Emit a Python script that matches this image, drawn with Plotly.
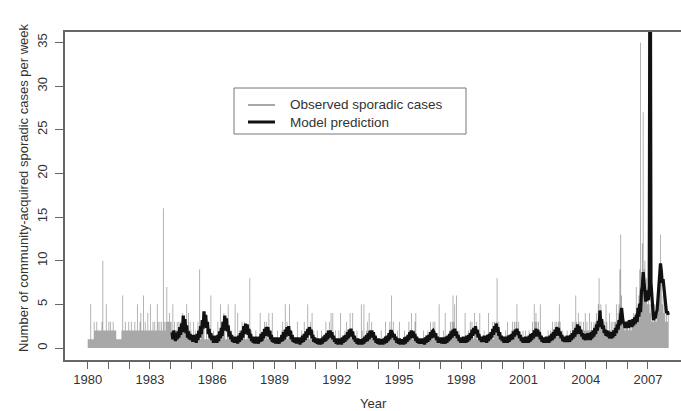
import plotly.graph_objects as go

# ---------------- data (half-month resolution) ----------------
PER_YEAR = 24
OBS_FIRST_YEAR = 1980
MOD_FIRST_YEAR = 1984

obs_1980 = [1,1,1,5,1,1,1,3,2,2,3,2,2,2,2,2,3,10,2,2,2,5,2,2]
obs_1981 = [3,2,3,2,2,3,2,2,2,1,1,1,1,1,1,2,6,2,2,3,2,2,2,3]
obs_1982 = [2,2,3,2,2,2,3,2,2,5,2,2,3,4,2,2,6,2,3,2,2,4,2,2]
obs_1983 = [5,2,2,3,2,3,2,2,5,3,2,3,2,3,2,16,3,2,3,7,3,3,4,3]
obs_1984 = [3,2,5,2,3,2,2,3,2,3,2,3,2,4,2,3,3,2,5,2,4,2,3,2]
obs_1985 = [1,1,3,1,2,1,1,3,1,9,1,3,2,3,4,1,1,2,1,1,1,2,6,1]
obs_1986 = [1,2,1,1,1,1,3,1,1,5,1,3,2,4,3,1,1,2,5,1,1,1,2,1]
obs_1987 = [1,1,5,1,1,4,1,2,1,1,3,1,2,3,1,1,2,1,1,8,1,2,1,1]
obs_1988 = [1,1,2,1,1,1,1,4,1,1,1,2,3,1,3,2,1,4,1,1,2,4,1,1]
obs_1989 = [1,1,1,2,1,1,1,1,2,3,1,1,5,2,3,1,2,5,1,1,2,1,1,1]
obs_1990 = [1,1,3,1,1,1,1,2,1,1,3,1,2,1,5,2,1,3,1,4,1,2,1,1]
obs_1991 = [1,2,1,1,1,1,2,1,1,1,1,3,1,2,1,3,2,4,1,4,1,1,2,1]
obs_1992 = [1,1,2,1,4,1,1,1,1,2,1,3,1,2,1,4,2,1,4,1,1,1,1,2]
obs_1993 = [1,1,1,1,5,2,1,5,1,1,2,3,1,4,1,2,3,1,2,1,1,1,1,1]
obs_1994 = [1,1,1,2,1,1,1,1,3,1,1,1,2,3,1,6,2,3,1,1,1,1,2,1]
obs_1995 = [3,1,1,1,1,1,2,1,1,1,1,3,2,1,4,1,1,2,3,4,1,1,1,1]
obs_1996 = [1,1,1,1,2,1,1,1,1,2,1,1,3,1,1,3,2,3,1,1,1,1,5,1]
obs_1997 = [1,1,1,2,1,4,1,1,1,1,2,3,1,3,6,3,5,2,6,1,1,2,1,1]
obs_1998 = [1,1,1,1,4,1,1,1,2,1,3,1,3,2,1,4,2,3,1,1,2,4,1,1]
obs_1999 = [1,1,2,1,1,1,1,4,1,1,1,2,3,1,3,2,3,8,2,3,1,1,1,1]
obs_2000 = [1,1,1,2,1,3,1,1,1,1,2,3,1,3,2,3,5,2,3,1,1,1,1,2]
obs_2001 = [1,1,2,1,1,1,2,1,1,1,3,2,5,3,4,3,2,3,2,5,1,1,1,1]
obs_2002 = [1,1,1,1,2,1,1,2,1,3,1,2,3,2,3,2,3,5,3,1,1,2,1,1]
obs_2003 = [1,1,2,1,1,1,2,1,3,2,3,2,6,3,2,4,3,2,3,2,1,3,2,4]
obs_2004 = [2,3,2,2,4,2,3,2,2,3,2,3,4,3,5,8,4,5,3,3,2,3,2,5]
obs_2005 = [3,2,2,4,2,3,2,3,2,3,3,5,3,4,5,9,13,6,4,3,3,2,3,3]
obs_2006 = [3,2,3,3,2,3,3,4,3,4,7,4,5,6,9,35,8,12,27,9,10,6,8,5]
obs_2007 = [6,5,4,5,3,4,3,5,4,3,5,4,6,9,13,8,5,6,4,5,3,4,3,4]

mod_1984 = [None,1.8,1.0,2.0,1.1,0.8,1.7,1.0,1.9,1.2,2.4,1.5,2.8,1.8,3.7,2.2,3.3,1.7,2.6,1.2,1.9,1.0,1.6,0.9]
mod_1985 = [1.5,0.7,1.5,0.8,1.3,0.6,1.6,0.9,2.0,1.2,2.5,1.6,3.2,2.2,4.2,2.9,3.8,2.3,3.0,1.6,2.2,1.1,1.7,0.9]
mod_1986 = [1.4,0.6,1.4,0.7,1.2,0.6,1.5,0.8,1.9,1.1,2.3,1.4,3.0,2.0,3.7,2.4,3.4,1.9,2.6,1.3,1.9,1.0,1.5,0.7]
mod_1987 = [1.3,0.6,1.3,0.6,1.2,0.5,1.4,0.7,1.7,0.9,2.0,1.2,2.5,1.6,2.8,1.9,2.7,1.5,2.2,1.1,1.6,0.8,1.3,0.6]
mod_1988 = [1.2,0.5,1.3,0.6,1.1,0.5,1.3,0.7,1.6,0.8,1.8,1.1,2.2,1.4,2.4,1.6,2.4,1.3,2.0,1.0,1.5,0.7,1.2,0.6]
mod_1989 = [1.2,0.5,1.2,0.5,1.1,0.5,1.2,0.7,1.5,0.8,1.8,1.0,2.1,1.3,2.4,1.6,2.5,1.4,2.0,1.0,1.5,0.7,1.2,0.6]
mod_1990 = [1.2,0.5,1.2,0.5,1.0,0.4,1.2,0.6,1.4,0.7,1.6,0.9,1.9,1.2,2.2,1.5,2.4,1.6,2.1,1.1,1.5,0.7,1.2,0.6]
mod_1991 = [1.1,0.5,1.1,0.4,1.0,0.4,1.1,0.5,1.3,0.7,1.5,0.8,1.7,1.0,2.0,1.2,2.0,1.3,1.8,1.0,1.4,0.7,1.1,0.5]
mod_1992 = [1.1,0.4,1.1,0.5,1.0,0.4,1.2,0.6,1.4,0.7,1.5,0.9,1.8,1.1,2.1,1.3,2.2,1.4,1.9,1.0,1.4,0.7,1.1,0.5]
mod_1993 = [1.1,0.4,1.0,0.4,1.0,0.4,1.1,0.5,1.3,0.7,1.5,0.8,1.7,1.0,2.0,1.2,2.0,1.3,1.8,0.9,1.4,0.6,1.1,0.5]
mod_1994 = [1.1,0.4,1.0,0.4,0.9,0.4,1.1,0.5,1.3,0.6,1.4,0.8,1.7,1.0,1.9,1.9,1.7,1.2,1.6,0.9,1.3,0.6,1.1,0.5]
mod_1995 = [1.1,0.4,1.0,0.5,1.0,0.4,1.2,0.5,1.3,0.7,1.5,0.9,1.8,1.1,2.0,1.3,1.9,1.1,1.6,0.8,1.3,0.6,1.1,0.5]
mod_1996 = [1.1,0.5,1.1,0.5,1.0,0.4,1.2,0.6,1.4,0.7,1.5,0.9,1.8,1.1,1.9,2.0,1.8,1.2,1.7,0.9,1.3,0.6,1.1,0.6]
mod_1997 = [1.2,0.5,1.2,0.5,1.1,0.5,1.3,0.6,1.4,0.8,1.6,1.0,1.9,1.2,2.1,1.4,2.2,1.5,1.9,1.1,1.5,0.8,1.2,0.6]
mod_1998 = [1.2,0.6,1.3,0.6,1.2,0.6,1.4,0.7,1.5,0.9,1.7,1.1,2.1,1.4,2.3,1.6,2.5,1.7,2.1,1.2,1.6,0.9,1.3,0.7]
mod_1999 = [1.3,0.7,1.4,0.7,1.3,0.6,1.5,0.8,1.6,1.0,1.8,1.2,2.2,1.5,2.5,1.8,2.8,2.0,2.4,1.4,1.8,1.0,1.4,0.8]
mod_2000 = [1.3,0.6,1.3,0.6,1.2,0.6,1.4,0.7,1.5,0.9,1.6,1.0,1.9,1.3,2.1,1.5,2.2,1.5,1.9,1.1,1.5,0.8,1.2,0.6]
mod_2001 = [1.2,0.6,1.3,0.6,1.2,0.6,1.4,0.7,1.6,0.9,1.7,1.1,2.0,1.3,2.2,1.5,2.1,1.3,1.8,1.0,1.4,0.7,1.2,0.6]
mod_2002 = [1.2,0.6,1.3,0.6,1.2,0.6,1.4,0.8,1.6,0.9,1.8,1.1,2.1,1.4,2.4,1.7,2.3,1.4,1.9,1.1,1.5,0.8,1.2,0.7]
mod_2003 = [1.3,0.7,1.4,0.7,1.3,0.7,1.5,0.9,1.7,1.1,2.0,1.3,2.3,1.6,2.7,1.9,2.5,1.6,2.1,1.3,1.7,1.0,1.5,0.9]
mod_2004 = [1.6,0.9,1.7,1.0,1.6,0.9,1.8,1.1,2.0,1.3,2.3,1.6,2.7,2.0,3.1,2.4,4.3,2.8,3.3,2.2,2.6,1.7,2.1,1.4]
mod_2005 = [2.0,1.3,1.9,1.1,1.8,1.1,1.7,1.2,2.0,1.4,2.3,1.7,2.7,2.1,3.2,2.6,3.8,4.6,3.6,2.8,3.0,2.3,2.8,2.4]
mod_2006 = [3.0,2.3,3.2,2.4,3.1,2.4,3.3,2.6,3.5,2.8,3.8,3.0,4.6,3.6,5.1,4.1,6.5,7.0,8.7,6.8,6.4,5.3,6.6,5.6]
mod_2007 = [5.5,7.0,60.0,7.5,6.3,4.5,3.2,3.6,3.4,4.0,4.3,5.5,6.8,8.5,9.7,8.8,7.5,7.9,7.0,5.8,4.6,4.0,4.2,3.8]

y_ticks = [0, 5, 10, 15, 20, 25, 30, 35]
x_tick_years = list(range(1980, 2008))
x_label_years = [1980, 1983, 1986, 1989, 1992, 1995, 1998, 2001, 2004, 2007]

observed_label = "Observed sporadic cases"
model_label = "Model prediction"
x_title = "Year"
y_title = "Number of community-acquired sporadic cases per week"

# ---------------- assemble series ----------------
obs_by_year = [obs_1980, obs_1981, obs_1982, obs_1983, obs_1984, obs_1985, obs_1986,
               obs_1987, obs_1988, obs_1989, obs_1990, obs_1991, obs_1992, obs_1993,
               obs_1994, obs_1995, obs_1996, obs_1997, obs_1998, obs_1999, obs_2000,
               obs_2001, obs_2002, obs_2003, obs_2004, obs_2005, obs_2006, obs_2007]
mod_by_year = [mod_1984, mod_1985, mod_1986, mod_1987, mod_1988, mod_1989, mod_1990,
               mod_1991, mod_1992, mod_1993, mod_1994, mod_1995, mod_1996, mod_1997,
               mod_1998, mod_1999, mod_2000, mod_2001, mod_2002, mod_2003, mod_2004,
               mod_2005, mod_2006, mod_2007]

# observed counts as a step-shaped filled histogram (each value covers its half-month)
obs_x, obs_y = [], []
for k, vals in enumerate(obs_by_year):
    for i, v in enumerate(vals):
        obs_x.append(OBS_FIRST_YEAR + k + i / PER_YEAR)
        obs_y.append(v)
obs_x.append(OBS_FIRST_YEAR + len(obs_by_year))
obs_y.append(obs_y[-1])
obs_x = [obs_x[0]] + obs_x + [obs_x[-1]]
obs_y = [0] + obs_y + [0]

mod_x, mod_y = [], []
for k, vals in enumerate(mod_by_year):
    for i, v in enumerate(vals):
        mod_x.append(MOD_FIRST_YEAR + k + (i + 0.5) / PER_YEAR)
        mod_y.append(v)

# ---------------- layout geometry ----------------
W, H = 681, 411
L, R, T, B = 65, 0, 32, 51
PW, PH = W - L - R, H - T - B

def px(x):
    return (x - L) / PW

def py(y):
    return (H - B - y) / PH

FONT = "Liberation Sans, Arial, Helvetica, sans-serif"
TXT = "#333333"
AX = "#666666"
GRAY = "#a8a8a8"

fig = go.Figure()
fig.add_trace(go.Scatter(x=obs_x, y=obs_y, mode="lines", line_shape="hv",
                         line=dict(width=0, color=GRAY),
                         fill="toself", fillcolor=GRAY,
                         name=observed_label, showlegend=False, hoverinfo="skip"))
fig.add_trace(go.Scatter(x=mod_x, y=mod_y, mode="lines",
                         line=dict(color="#111111", width=3.2),
                         name=model_label, showlegend=False, connectgaps=False))

fig.update_layout(
    width=W, height=H,
    margin=dict(l=L, r=R, t=T, b=B, pad=0),
    paper_bgcolor="white", plot_bgcolor="white",
    font=dict(family=FONT, size=13, color=TXT),
    xaxis=dict(
        range=[1978.906, 2008.593],
        tickmode="array",
        tickvals=x_tick_years,
        ticktext=[str(y) if y in x_label_years else "" for y in x_tick_years],
        ticks="outside", ticklen=7, tickwidth=1.2, tickcolor=AX,
        showline=True, mirror=True, linecolor=AX, linewidth=1.5,
        showgrid=False, zeroline=False,
        tickfont=dict(family=FONT, size=13, color=TXT),
    ),
    yaxis=dict(
        range=[-1.375, 36.2],
        tickmode="array", tickvals=y_ticks,
        ticktext=[str(v) for v in y_ticks],
        ticks="outside", ticklen=8, tickwidth=1.2, tickcolor=AX,
        tickangle=-90, ticklabelstandoff=3,
        showline=True, mirror=False, linecolor=AX, linewidth=1.5,
        showgrid=False, zeroline=False,
        tickfont=dict(family=FONT, size=13, color=TXT),
    ),
)

# legend drawn as box + samples + text
fig.add_shape(type="rect", xref="paper", yref="paper",
              x0=px(234), x1=px(466), y0=py(134), y1=py(88),
              line=dict(color="#777777", width=1), fillcolor="white", layer="above")
fig.add_shape(type="line", xref="paper", yref="paper",
              x0=px(248), x1=px(275), y0=py(105), y1=py(105),
              line=dict(color=GRAY, width=2))
fig.add_shape(type="line", xref="paper", yref="paper",
              x0=px(248), x1=px(275), y0=py(122), y1=py(122),
              line=dict(color="#111111", width=3))
fig.add_annotation(xref="paper", yref="paper", x=px(288), y=py(105),
                   xanchor="left", yanchor="middle", showarrow=False,
                   text=observed_label, font=dict(family=FONT, size=13.5, color=TXT))
fig.add_annotation(xref="paper", yref="paper", x=px(288), y=py(122),
                   xanchor="left", yanchor="middle", showarrow=False,
                   text=model_label, font=dict(family=FONT, size=13.5, color=TXT))

# axis titles
fig.add_annotation(xref="paper", yref="paper", x=px(373), y=py(403),
                   xanchor="center", yanchor="middle", showarrow=False,
                   text=x_title, font=dict(family=FONT, size=13, color=TXT))
fig.add_annotation(xref="paper", yref="paper", x=px(23), y=py(188),
                   xanchor="center", yanchor="middle", showarrow=False, textangle=-90,
                   text=y_title, font=dict(family=FONT, size=13, color=TXT))

fig.write_html("out.html")
